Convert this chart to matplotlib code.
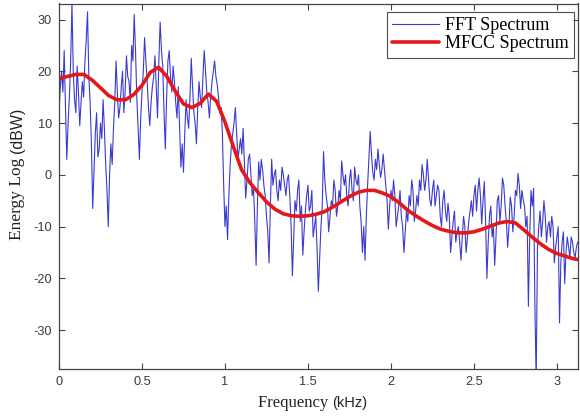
import numpy as np
import matplotlib
matplotlib.use("Agg")
import matplotlib.pyplot as plt

plt.rcParams["axes.unicode_minus"] = False

# FFT spectrum samples (step = 1/128 kHz)
fft_step_khz = 1.0 / 128
fft_db = [
    12, 17, 20, 16, 24, 13, 3, 10, 15, 22, 33, 20, 14.5, 12, 21, 16,
    9.5, 14, 18, 15, 22, 26, 31.5, 19, 14, 6, -6.5, 1, 8, 12, 3.5, 5,
    10, 7, 14.5, 9, 2, -3, -10, 0, 6, 2, 9, 14, 22, 16, 11, 13,
    17, 20, 12, 16, 23, 19, 18, 14, 25, 22, 31, 24, 15, 9, 3, 11,
    16, 20, 26.5, 22, 18, 13, 9.5, 14, 17, 19, 23, 17, 11, 22, 29.5, 24,
    21, 12, 5, 15, 22, 24, 19, 16, 21, 18, 14, 11, 17, 9, 1.5, 6,
    0.5, 8, 14.5, 11, 9, 15, 22.5, 17, 12, 10, 6, 13, 18, 15, 13, 19,
    24, 20, 16, 14, 11, 15, 18, 20, 22, 19, 17.5, 15, 12, 13, 8, -2,
    -10, -6, -12.5, -4, 2, 6, 8, 10, 13, 8, 3, 5, 7, 4, 9, 2,
    -4.5, -1, 3, 4, 0, -4, -2.5, -9, -17.5, -6, 2.5, -1, 3, 1, -2, -4,
    -8, -11, -17, -6, 3, -2, 0, 1, -3, -5, -1, -3, 1.5, 0, -2, -4,
    -1, 0, -4, -10, -19.5, -12, -5, -7, -3, -1, -9, -6, -15.5, -11, -7, -4,
    -2, -7, -6, -3, -12, -10, -8, -14, -22.5, -16, -10, -6, 4.5, -1, -4, -6,
    -11, -8, -5, -6, -1, -3, -8, -6, -3, -5, 2.7, 0, -2, 0, -4.5, -6,
    -1, 1, -3, -5, 1.5, -1, -2, 0, -6, -9, -15, -10, -16.5, -8, -2, 3,
    8.4, 4, 0.5, -1, 3, 1, 5, 2, -0.5, 1, 4, 1, -2, -5, -10.5, -6,
    -3, -5, -1, -4, -10, -8, -6, -3, -8, -10, -15, -11, -7, -9, -4, -6,
    -1, -3, -9, -7, -4, -6, -1, -3, 2, 0, -3, -1, 3, -1, -4.8, -6,
    -3, -1, -6, -4, -2, -3, -8, -10, -5, -3, -7, -9, -5.5, -8, -15, -12,
    -9, -7, -13, -11, -10, -13, -16.5, -12, -8, -10, -15, -12, -9, -7, -5, -8,
    -4, -2, -7, -3, -0.6, -4, -9.5, -5, -1.3, -9, -20, -13, -8, -6, -12, -10,
    -17.5, -12, -5, -4, -9, -6, -0.6, -2, -6, -9, -14, -10, -4.3, -6, -11, -8,
    -3, -4, 0.3, -2, -6.5, -3, -4.8, -6, -10, -8, -25.4, -12, -3, -6, -2.6, -25,
    -40, -14, -10, -7, -12, -9, -5, -8, -13, -10, -9, -12, -8, -10, -17, -14,
    -12, -10, -28.6, -17, -13, -11, -21, -15, -12, -14, -16, -12, -13, -15, -16, -14,
    -13,
]

# MFCC spectrum samples (every 0.05 kHz)
mfcc_khz = [
    0.00, 0.05, 0.10, 0.15, 0.20, 0.25, 0.30, 0.35, 0.40, 0.45,
    0.50, 0.55, 0.60, 0.65, 0.70, 0.75, 0.80, 0.85, 0.90, 0.95,
    1.00, 1.05, 1.10, 1.15, 1.20, 1.25, 1.30, 1.35, 1.40, 1.45,
    1.50, 1.55, 1.60, 1.65, 1.70, 1.75, 1.80, 1.85, 1.90, 1.95,
    2.00, 2.05, 2.10, 2.15, 2.20, 2.25, 2.30, 2.35, 2.40, 2.45,
    2.50, 2.55, 2.60, 2.65, 2.70, 2.75, 2.80, 2.85, 2.90, 2.95,
    3.00, 3.05, 3.10, 3.15,
]
mfcc_db = [
    18.6, 19.0, 19.4, 19.4, 18.3, 16.8, 15.3, 14.5, 14.5, 15.5,
    17.3, 19.8, 20.8, 19.0, 16.2, 13.7, 13.0, 13.8, 15.6, 14.2,
    10.2, 5.5, 1.0, -1.5, -3.4, -5.2, -6.6, -7.5, -7.9, -8.0,
    -7.9, -7.6, -7.1, -6.2, -5.2, -4.2, -3.4, -3.0, -3.0, -3.5,
    -4.2, -5.4, -6.8, -7.9, -8.9, -9.8, -10.5, -10.9, -11.2, -11.2,
    -11.0, -10.5, -9.9, -9.3, -9.0, -9.3, -10.6, -12.0, -13.3, -14.4,
    -15.2, -15.7, -16.2, -16.5,
]

x_ticks = [0, 0.5, 1, 1.5, 2, 2.5, 3]
x_ticklabels = ["0", "0.5", "1", "1.5", "2", "2.5", "3"]
y_ticks = [-30, -20, -10, 0, 10, 20, 30]

fft_khz = np.arange(len(fft_db)) * fft_step_khz

W, H = 580, 417
fig = plt.figure(figsize=(W / 100, H / 100), dpi=100)
ax = fig.add_axes([59 / W, 1 - 369 / H, (578 - 59) / W, (369 - 3.5) / H])

ax.plot(fft_khz, fft_db, color="#3a3ad2", lw=0.8, label="FFT Spectrum")
ax.plot(mfcc_khz, mfcc_db, color="#e41818", lw=2.6, label="MFCC Spectrum",
        solid_capstyle="round", solid_joinstyle="round")

ax.set_xlim(0, 3.127)
ax.set_ylim(-37.5, 33.1)
ax.set_xticks(x_ticks)
ax.set_xticklabels(x_ticklabels)
ax.set_yticks(y_ticks)

ax.tick_params(direction="in", length=4, width=0.8, color="#444444",
               top=True, right=True, labelsize=9.2, labelcolor="#3a3a3a", pad=5)
for lab in ax.get_xticklabels() + ax.get_yticklabels():
    lab.set_family(["Liberation Sans", "DejaVu Sans"])
for sp in ax.spines.values():
    sp.set_color("#444444")
    sp.set_linewidth(0.9)

serif = ["Liberation Serif", "DejaVu Serif"]
sans = ["Liberation Sans", "DejaVu Sans"]

fig.canvas.draw()
renderer = fig.canvas.get_renderer()

# x label: serif word + sans unit, centred as a whole under the axes
t1 = fig.text(0, 1 - 403 / H, "Frequency ", family=serif, fontsize=12,
              color="#222222", ha="left", va="center")
t2 = fig.text(0, 1 - 403 / H, "(kHz)", family=sans, fontsize=10.5,
              color="#222222", ha="left", va="center")
w1 = t1.get_window_extent(renderer).width
w2 = t2.get_window_extent(renderer).width
x0 = 313 - (w1 + w2) / 2
t1.set_x(x0 / W)
t2.set_x((x0 + w1) / W)

# y label: serif words + sans unit, rotated, contiguous
u1 = fig.text(17 / W, 0, "Energy Log ", family=serif, fontsize=12.5,
              color="#222222", ha="center", va="bottom", rotation=90)
u2 = fig.text(17 / W, 0, "(dBW)", family=sans, fontsize=11.5,
              color="#222222", ha="center", va="bottom", rotation=90)
h1 = u1.get_window_extent(renderer).height
h2 = u2.get_window_extent(renderer).height
yb = (H - 174) - (h1 + h2) / 2
u1.set_y(yb / H)
u2.set_y((yb + h1) / H)

leg = ax.legend(loc="upper right", bbox_to_anchor=(0.992, 0.977), frameon=True,
                fancybox=False, prop={"family": serif, "size": 13},
                handlelength=2.6, borderpad=0.3, labelspacing=0.05, handletextpad=0.3,
                borderaxespad=0.0)
leg.get_frame().set_edgecolor("#222222")
leg.get_frame().set_linewidth(0.8)

fig.savefig("out.png", dpi=100)
